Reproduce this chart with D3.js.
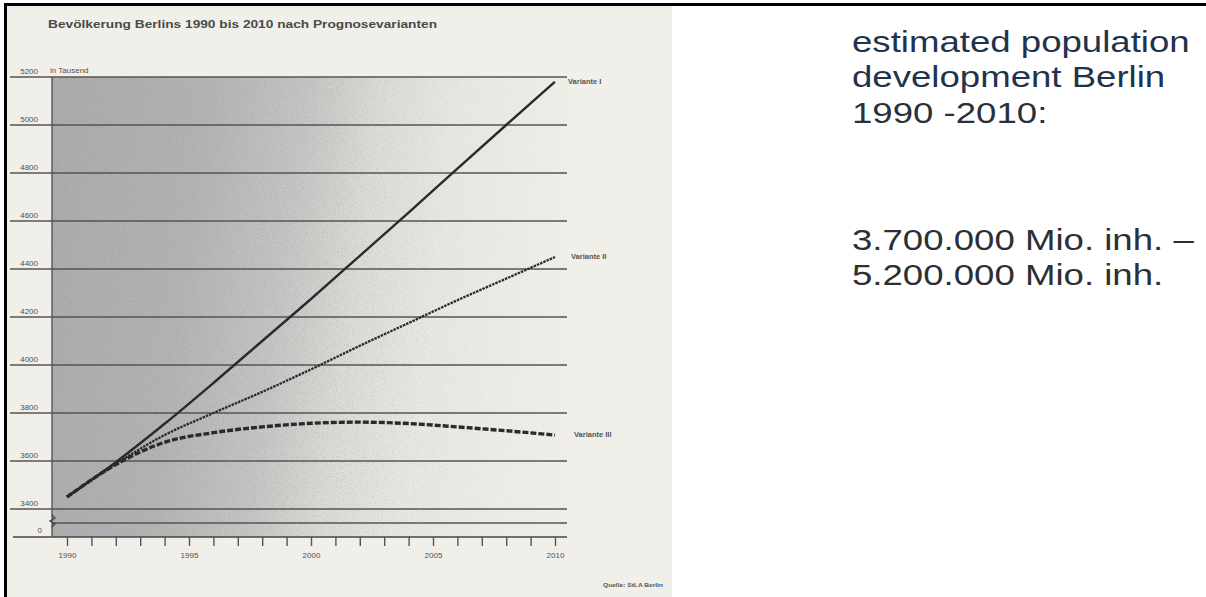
<!DOCTYPE html>
<html lang="de">
  <head>
    <meta charset="UTF-8" />
    <title>Bevölkerung Berlins 1990 bis 2010</title>
    <style>
      body { margin: 0; background: #fff; }
      text { font-family: 'Liberation Sans', Arial, sans-serif; }
    </style>
  </head>
  <body>
    <script src="https://d3js.org/d3.v7.min.js"></script>
    <svg id="chart" width="1206" height="597"></svg>

    <script>
      // values (in thousand inhabitants)
      const years = [1990, 1992, 1994, 1996, 1998, 2000, 2002, 2004, 2006, 2008, 2010];
      const varianteI = [3450, 3595, 3755, 3925, 4100, 4275, 4455, 4635, 4818, 5000, 5180];
      const varianteII = [3450, 3588, 3708, 3800, 3888, 3982, 4080, 4175, 4270, 4360, 4450];
      const varianteIII = [3450, 3585, 3678, 3718, 3742, 3757, 3762, 3756, 3742, 3726, 3708];
      const seriesNames = ['Variante I', 'Variante II', 'Variante III'];
      const yTicks = [3400, 3600, 3800, 4000, 4200, 4400, 4600, 4800, 5000, 5200];
      const xTicks = d3.range(1990, 2011);
      const xLabels = [1990, 1995, 2000, 2005, 2010];

      const title = 'Bevölkerung Berlins 1990 bis 2010 nach Prognosevarianten';
      const sideText = ['estimated population', 'development Berlin', '1990 -2010:'];
      const rangeText = ['3.700.000 Mio. inh. –', '5.200.000 Mio. inh.'];

      const svg = d3.select('#chart');
      const ink = '#4f4f4f';

      const x = d3.scaleLinear().domain([1990, 2010]).range([67, 555]);
      // broken axis: 0 at the bottom, gap, then 3400..5200
      const y = d3.scaleLinear().domain([0, 3400, 5200]).range([537, 509, 77]);

      const defs = svg.append('defs');
      const grad = defs.append('linearGradient')
        .attr('id', 'shade')
        .attr('x1', 0).attr('y1', 0).attr('x2', 1).attr('y2', 0.12);
      [[0, '#acacac'], [0.3, '#b4b4b4'], [0.5, '#c7c7c5'], [0.63, '#dddcd9'],
       [0.78, '#eae8e3'], [1, '#efede8']].forEach(s => {
        grad.append('stop').attr('offset', s[0]).attr('stop-color', s[1]);
      });

      const noise = defs.append('filter').attr('id', 'grain')
        .attr('x', 0).attr('y', 0).attr('width', 1).attr('height', 1);
      noise.append('feTurbulence')
        .attr('type', 'fractalNoise').attr('baseFrequency', 0.9)
        .attr('numOctaves', 2).attr('seed', 4);
      noise.append('feColorMatrix')
        .attr('values', '0 0 0 0 0.25  0 0 0 0 0.25  0 0 0 0 0.25  0 0 0 3 -1.3');
      noise.append('feComposite').attr('in2', 'SourceGraphic').attr('operator', 'in');

      const fade = defs.append('linearGradient').attr('id', 'fade');
      fade.append('stop').attr('offset', 0).attr('stop-color', '#fff');
      fade.append('stop').attr('offset', 0.55).attr('stop-color', '#fff');
      fade.append('stop').attr('offset', 1).attr('stop-color', '#000');
      defs.append('mask').attr('id', 'fadeMask')
        .attr('maskContentUnits', 'objectBoundingBox')
        .append('rect').attr('width', 1).attr('height', 1).attr('fill', 'url(#fade)');

      // scanned paper
      svg.append('rect')
        .attr('x', 7).attr('y', 6).attr('width', 665).attr('height', 591)
        .attr('fill', '#f1efe9');

      const plotW = 567 - 52;
      svg.append('rect')
        .attr('x', 52).attr('y', y(5200))
        .attr('width', plotW).attr('height', y(0) - y(5200))
        .attr('fill', 'url(#shade)');
      svg.append('g').attr('mask', 'url(#fadeMask)')
        .append('rect')
        .attr('x', 52).attr('y', y(5200))
        .attr('width', plotW).attr('height', y(0) - y(5200))
        .attr('fill', '#000')
        .attr('opacity', 0.22)
        .attr('filter', 'url(#grain)');

      // grid lines with labels sitting on them
      svg.append('g')
        .selectAll('line')
        .data(yTicks)
        .join('line')
        .attr('x1', 10).attr('x2', 567)
        .attr('y1', d => y(d)).attr('y2', d => y(d))
        .attr('stroke', '#555').attr('stroke-width', 1.4);

      svg.append('g')
        .selectAll('text')
        .data(yTicks)
        .join('text')
        .attr('x', 38).attr('y', d => y(d) - 3)
        .attr('text-anchor', 'end')
        .attr('font-size', 8)
        .attr('fill', ink)
        .text(d => d);

      // break line, zero line, y axis
      svg.append('line')
        .attr('x1', 52).attr('x2', 567)
        .attr('y1', y(1700)).attr('y2', y(1700))
        .attr('stroke', '#555').attr('stroke-width', 1.4);
      svg.append('line')
        .attr('x1', 13).attr('x2', 567)
        .attr('y1', y(0)).attr('y2', y(0))
        .attr('stroke', '#444').attr('stroke-width', 1.6);
      svg.append('text')
        .attr('x', 42).attr('y', y(0) - 4)
        .attr('text-anchor', 'end').attr('font-size', 8).attr('fill', ink)
        .text(0);
      svg.append('line')
        .attr('x1', 52).attr('x2', 52)
        .attr('y1', y(5200)).attr('y2', y(0))
        .attr('stroke', '#555').attr('stroke-width', 1.4);
      svg.append('path')
        .attr('d', `M52,${y(3400) + 6} l3,3 l-5,3 l5,3 l-3,3`)
        .attr('fill', 'none').attr('stroke', '#444').attr('stroke-width', 1.3);

      // x axis ticks
      const xAxis = svg.append('g')
        .attr('transform', `translate(0,${y(0)})`)
        .call(d3.axisBottom(x)
          .tickValues(xTicks)
          .tickSize(9)
          .tickPadding(6)
          .tickFormat(d => xLabels.includes(d) ? d : ''));
      xAxis.select('.domain').remove();
      xAxis.selectAll('.tick line').attr('stroke', '#555').attr('stroke-width', 1.4);
      xAxis.selectAll('.tick text')
        .attr('font-size', 8)
        .attr('fill', ink)
        .attr('font-family', "'Liberation Sans', Arial, sans-serif");

      // the three forecast variants
      const seriesValues = [varianteI, varianteII, varianteIII];
      const styles = [
        { w: 2.4, dash: null },
        { w: 2.3, dash: '2.5,1' },
        { w: 3.4, dash: '6,2' }
      ];
      const line = d3.line()
        .x(d => x(d[0]))
        .y(d => y(d[1]))
        .curve(d3.curveMonotoneX);

      svg.append('g')
        .selectAll('path')
        .data(seriesValues)
        .join('path')
        .attr('d', vals => line(years.map((yr, i) => [yr, vals[i]])))
        .attr('fill', 'none')
        .attr('stroke', '#2a2a2a')
        .attr('stroke-width', (d, i) => styles[i].w)
        .attr('stroke-dasharray', (d, i) => styles[i].dash)
        .attr('stroke-linecap', 'butt');

      svg.append('g')
        .selectAll('text')
        .data(seriesNames)
        .join('text')
        .attr('x', (d, i) => x(2010) + 13 + i * 3)
        .attr('y', (d, i) => y(seriesValues[i][seriesValues[i].length - 1]) + 2)
        .attr('font-size', 7.5)
        .attr('font-weight', 'bold')
        .attr('fill', '#555')
        .text(d => d);

      // title and notes of the scan
      svg.append('text')
        .attr('x', 48).attr('y', 28)
        .attr('font-size', 11).attr('font-weight', 'bold')
        .attr('fill', '#4a4a4a')
        .attr('textLength', 389).attr('lengthAdjust', 'spacingAndGlyphs')
        .text(title);
      svg.append('text')
        .attr('x', 50).attr('y', y(5200) - 4)
        .attr('font-size', 8).attr('fill', ink)
        .text('in Tausend');
      svg.append('text')
        .attr('x', 603).attr('y', 587)
        .attr('font-size', 6).attr('font-weight', 'bold')
        .attr('fill', '#555')
        .attr('textLength', 60).attr('lengthAdjust', 'spacingAndGlyphs')
        .text('Quelle: StLA Berlin');

      // slide text on the right
      const side = svg.append('g').attr('transform', 'translate(852,0) scale(1.22,1)');
      side.selectAll('text.head')
        .data(sideText)
        .join('text')
        .attr('class', 'head')
        .attr('x', 0).attr('y', (d, i) => 52 + i * 35.5)
        .attr('font-size', 30)
        .attr('fill', (d, i) => i < 2 ? '#1f334d' : '#29313c')
        .text(d => d);
      side.selectAll('text.range')
        .data(rangeText)
        .join('text')
        .attr('class', 'range')
        .attr('x', 0).attr('y', (d, i) => 250 + i * 35.5)
        .attr('font-size', 30)
        .attr('fill', '#2c2f34')
        .text(d => d);

      // frame of the slide
      svg.append('rect')
        .attr('x', 4).attr('y', 3).attr('width', 1202).attr('height', 3)
        .attr('fill', '#000');
      svg.append('rect')
        .attr('x', 4).attr('y', 3).attr('width', 3).attr('height', 594)
        .attr('fill', '#000');
    </script>
  </body>
</html>
